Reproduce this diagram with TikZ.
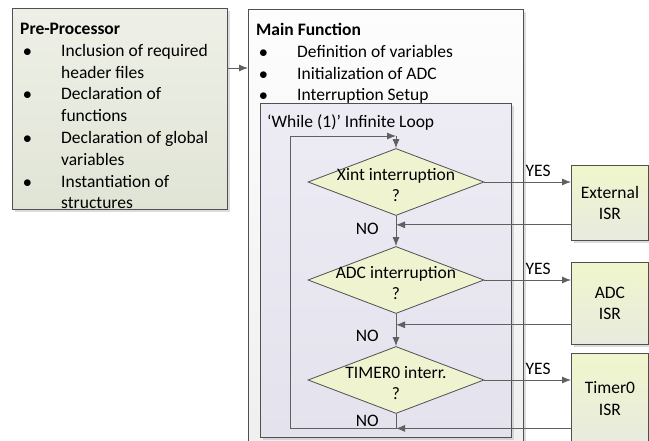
\documentclass[tikz,border=0pt]{standalone}
\usepackage{fontspec}
\setmainfont{Carlito}
\usetikzlibrary{positioning, calc, shapes.geometric, shadows, arrows.meta}

\definecolor{boxline}{RGB}{80,80,80}
\definecolor{conline}{RGB}{96,96,96}
\definecolor{pretop}{RGB}{238,240,231}
\definecolor{prebot}{RGB}{224,228,213}
\definecolor{maintop}{RGB}{253,253,253}
\definecolor{mainbot}{RGB}{238,238,238}
\definecolor{looptop}{RGB}{237,235,244}
\definecolor{loopbot}{RGB}{228,226,236}
\definecolor{diafill}{RGB}{239,243,208}
\definecolor{isrtop}{RGB}{240,246,204}
\definecolor{isrbot}{RGB}{232,234,222}

\begin{document}
\begin{tikzpicture}[
                x=1pt, y=-1pt,
                font=\fontsize{17.5}{21.8}\selectfont,
                >={Latex[length=9pt, width=7pt]},
                conn/.style={draw=conline, line width=0.8pt},
                shadowed/.style={drop shadow={shadow xshift=3pt, shadow yshift=-3pt, fill=black!30, opacity=0.45}},
                block/.style={rectangle, draw=boxline, line width=0.8pt, inner sep=0pt, anchor=north west, shadowed},
                decision/.style={diamond, draw=boxline, line width=0.8pt, fill=diafill, inner sep=0pt, aspect=2.6, minimum width=176pt, minimum height=67pt},
                isr/.style={block, top color=isrtop, bottom color=isrbot, minimum width=77pt, align=center},
                txt/.style={inner sep=0pt, align=center},
                lbl/.style={inner sep=0pt}]

    \useasboundingbox (0,0) rectangle (649,441);
    \clip (0,0) rectangle (649,441);

    %%% NODES
    \node [block, top color=pretop, bottom color=prebot, minimum width=215pt, minimum height=201pt] (preprocessor) at (12,8) {};
    \node [lbl, anchor=north west] (preprocessortext) at (20,19) {%
        \begin{tabular}{@{\hspace{3pt}}p{38pt}@{}l@{}}
            \multicolumn{2}{@{}l@{}}{\textbf{Pre-Processor}}\\
            $\bullet$ & Inclusion of required\\
                      & header files\\
            $\bullet$ & Declaration of\\
                      & functions\\
            $\bullet$ & Declaration of global\\
                      & variables\\
            $\bullet$ & Instantiation of\\
                      & structures
        \end{tabular}};

    \node [block, top color=maintop, bottom color=mainbot, minimum width=275pt, minimum height=480pt] (mainfunction) at (248,9) {};
    \node [lbl, anchor=north west] (mainfunctiontext) at (256,20) {%
        \begin{tabular}{@{\hspace{3pt}}p{38pt}@{}l@{}}
            \multicolumn{2}{@{}l@{}}{\textbf{Main Function}}\\
            $\bullet$ & Definition of variables\\
            $\bullet$ & Initialization of ADC\\
            $\bullet$ & Interruption Setup
        \end{tabular}};

    \node [block, top color=looptop, bottom color=loopbot, minimum width=251pt, minimum height=334pt] (whileloop) at (260,103) {};
    \node [lbl, anchor=base west] (whilelooptext) at (267,128) {‘While (1)’ Infinite Loop};

    \node [decision] (xint) at (396,182) {};
    \node [txt] (xinttext) at ([yshift=-3pt]xint.center) {Xint interruption\\?};
    \node [decision] (adc) at (396,280) {};
    \node [txt] (adctext) at ([yshift=-3pt]adc.center) {ADC interruption\\?};
    \node [decision] (timer) at (396,380) {};
    \node [txt] (timertext) at ([yshift=-3pt]timer.center) {TIMER0 interr.\\?};

    \node [isr, minimum height=75pt] (externalisr) at (571,165) {External\\ISR};
    \node [isr, minimum height=82pt] (adcisr) at (571,262) {ADC\\ISR};
    \node [isr, minimum height=90pt] (timerisr) at (571,353) {Timer0\\ISR};

    \coordinate (preout) at (227,68);
    \coordinate (loopstart) at (290,136);
    \coordinate (isrback1) at ([yshift=16pt]externalisr.south west);
    \coordinate (isrback2) at ([yshift=20pt]adcisr.south west);
    \coordinate (isrback3) at ([yshift=-30pt]timerisr.west);
    \coordinate (loopcorner) at (isrback3 -| timer.south);

    \node [lbl, below left=7pt and 17pt of xint.south] (no1) {NO};
    \node [lbl, below left=16pt and 17pt of adc.south] (no2) {NO};
    \node [lbl, above left=2pt and 17pt of loopcorner] (no3) {NO};

    %%% CONNECTIONS
    \draw [conn, ->] (preout) -- (preout -| mainfunction.west);

    \draw [conn, ->] (loopstart) -- (loopstart -| xint.north);
    \draw [conn, ->] (loopstart -| xint.north) -- (xint.north);
    \draw [conn, ->] (xint.south) -- (adc.north);
    \draw [conn, ->] (adc.south) -- (timer.north);
    \draw [conn] (timer.south) -- (loopcorner) -- (loopcorner -| loopstart) -- (loopstart);

    \draw [conn, ->] (xint.east) -- (xint.east -| externalisr.west) node [lbl, pos=0.62, above=5pt] (yes1) {YES};
    \draw [conn, ->] (adc.east) -- (adc.east -| adcisr.west) node [lbl, pos=0.62, above=5pt] (yes2) {YES};
    \draw [conn, ->] (timer.east) -- (timer.east -| timerisr.west) node [lbl, pos=0.62, above=5pt] (yes3) {YES};

    \draw [conn, ->] (isrback1) -- (isrback1 -| xint.south);
    \draw [conn, ->] (isrback2) -- (isrback2 -| adc.south);
    \draw [conn, ->] (isrback3) -- (loopcorner);

\end{tikzpicture}
\end{document}
